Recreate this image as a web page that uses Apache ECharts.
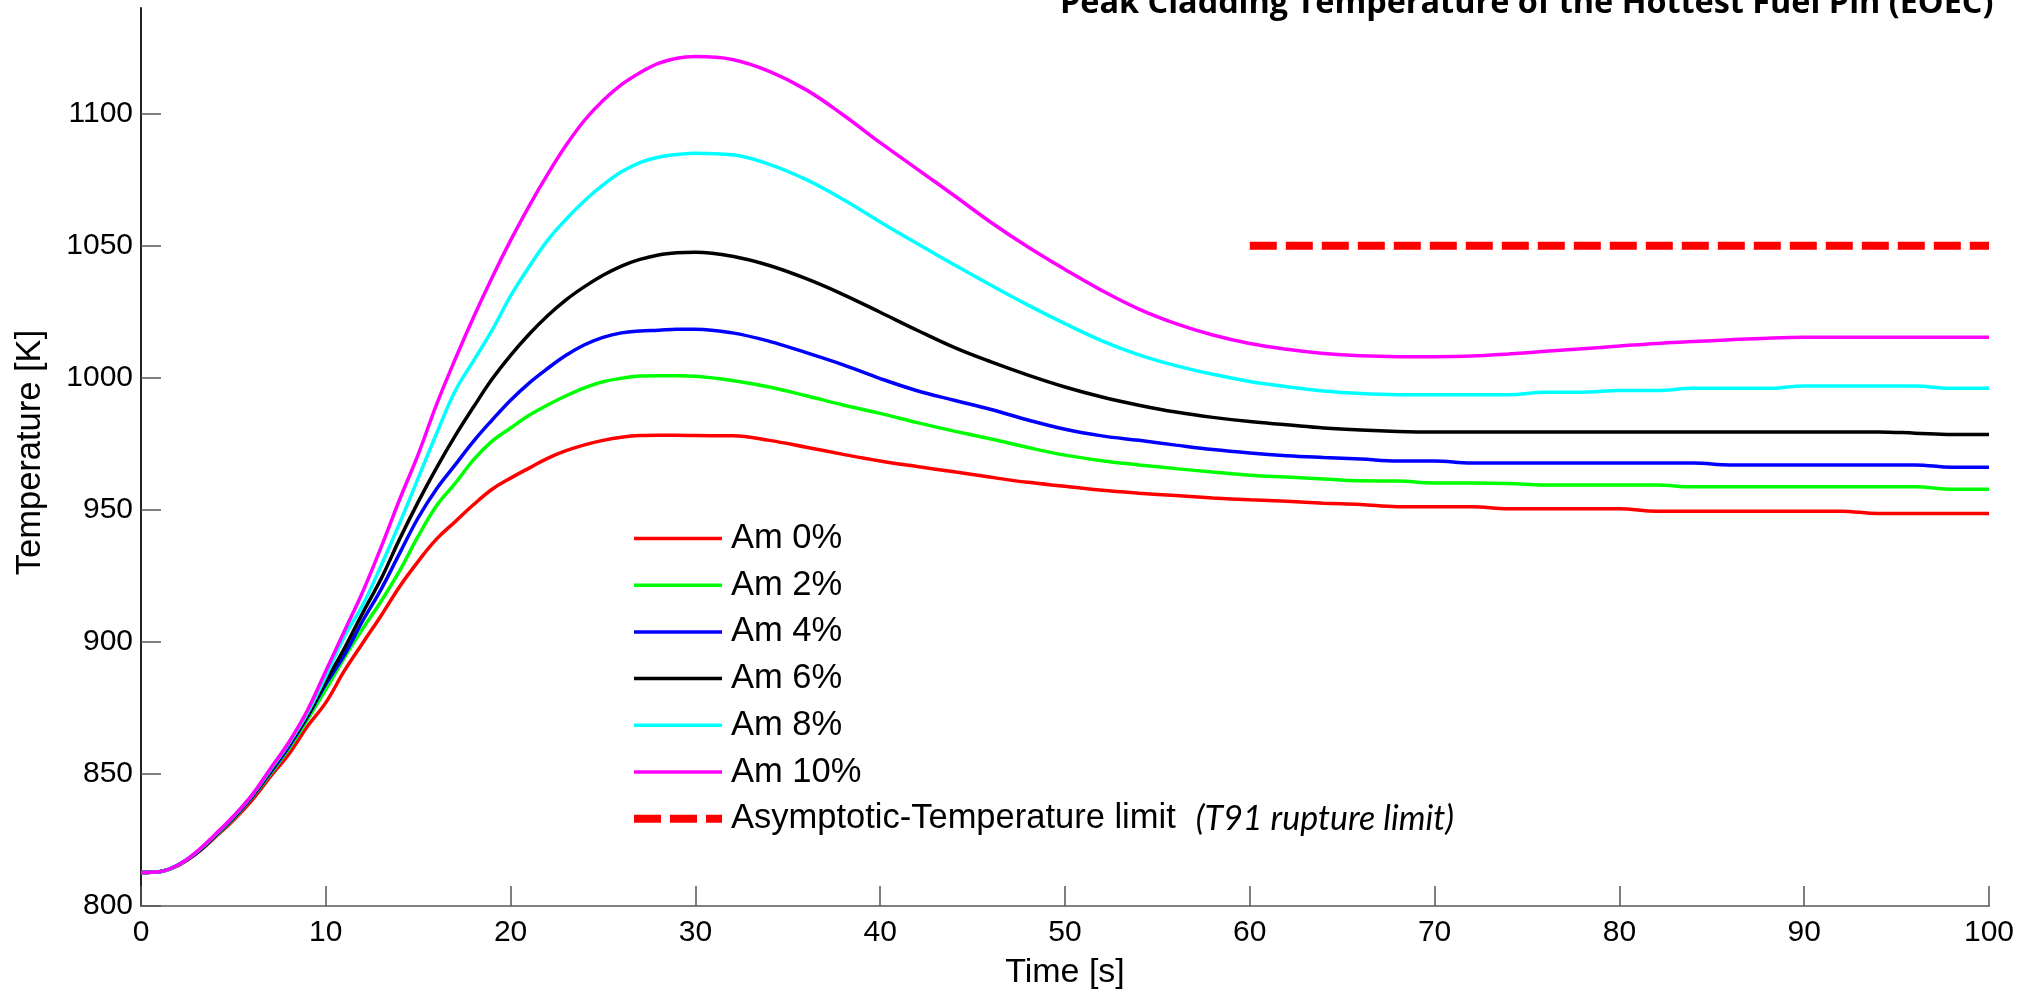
<!DOCTYPE html>
<html>
<head>
<meta charset="utf-8">
<script src="https://cdn.jsdelivr.net/npm/echarts@6/dist/echarts.min.js"></script>
<style>
  html, body { margin: 0; padding: 0; background: #fff; }
  #chart { width: 2040px; height: 995px; }
</style>
</head>
<body>
<div id="chart"></div>
<script>
  // time axis shared by all six curves [s]
  const times = [0, 1, 2, 3, 4, 5, 6, 7, 8, 9, 10, 11, 12, 13, 14, 15, 16, 17, 18, 19, 20,
    21, 22, 23, 24, 25, 26, 27, 28, 29, 30, 32, 34, 36, 38, 40, 42, 44, 46, 48, 50,
    52, 54, 56, 58, 60, 62, 64, 66, 68, 70, 72, 74, 76, 78, 80, 82, 84, 86, 88, 90,
    92, 94, 96, 98, 100]

  const am0 = [812.7, 813, 815.3, 819.8, 826, 832.5, 840, 849, 857.5, 868, 877, 889, 899.6, 910, 921, 930.5, 939, 945.5, 952, 957.8, 962,
    965.8, 969.5, 972.4, 974.6, 976.3, 977.5, 978.1, 978.2, 978.2, 978.1, 978, 976.3, 973.7, 971, 968.5, 966.4, 964.4, 962.3, 960.4, 958.9,
    957.4, 956.3, 955.4, 954.5, 953.8, 953.2, 952.5, 952, 951.2, 951.2, 951.2, 950.4, 950.4, 950.4, 950.4, 949.5, 949.5, 949.5, 949.5, 949.5,
    949.5, 948.6, 948.6, 948.6, 948.6]
  const am2 = [812.7, 813, 815.5, 820, 826.3, 833, 841, 850, 859.5, 870.5, 882, 894, 905, 915.5, 927, 940, 951.6, 960, 969, 976, 981,
    985.8, 989.7, 993.2, 996.2, 998.5, 999.8, 1000.7, 1000.8, 1000.8, 1000.6, 999, 996.5, 993.2, 989.7, 986.5, 983, 979.8, 976.8, 973.6, 970.7,
    968.6, 967, 965.6, 964.3, 963.1, 962.4, 961.7, 961, 960.9, 960.2, 960.2, 960, 959.4, 959.4, 959.4, 959.4, 958.7, 958.7, 958.7, 958.7,
    958.7, 958.7, 958.7, 957.8, 957.8]
  const am4 = [812.7, 813, 815.5, 820, 826.5, 833.3, 841.2, 850.5, 860.3, 871.5, 884, 895, 908, 920, 933.6, 947, 958, 967, 976, 984, 991.5,
    998, 1003.5, 1008.5, 1012.5, 1015.3, 1017, 1017.7, 1018, 1018.4, 1018.4, 1017, 1013.8, 1009.5, 1004.9, 999.7, 995.1, 991.5, 988, 984, 980.5,
    978, 976.3, 974.5, 972.8, 971.5, 970.5, 969.8, 969.2, 968.5, 968.5, 967.7, 967.7, 967.7, 967.7, 967.7, 967.7, 967.7, 967, 967, 967,
    967, 967, 967, 966.1, 966.1]
  const am6 = [812.7, 813, 815.5, 820, 826.5, 833.5, 841.5, 851, 861, 872, 885, 897.5, 911, 924, 939, 953, 966, 978, 989, 999.5, 1008.5,
    1016.5, 1023.5, 1029.5, 1034.5, 1038.8, 1042.3, 1044.8, 1046.5, 1047.3, 1047.5, 1046, 1042.5, 1037.5, 1031.5, 1024.8, 1018, 1011.5, 1006, 1001, 996.5,
    992.7, 989.6, 987, 985, 983.4, 982.2, 981, 980.2, 979.7, 979.5, 979.5, 979.5, 979.5, 979.5, 979.5, 979.5, 979.5, 979.5, 979.5, 979.5,
    979.5, 979.5, 979, 978.5, 978.5]
  const am8 = [812.7, 813, 815.5, 820.3, 826.8, 833.8, 841.8, 851.5, 861.5, 873, 887, 902, 914, 929, 945, 962, 979, 995, 1006.5, 1018, 1031,
    1042, 1052, 1060, 1067, 1073, 1078, 1081.5, 1083.5, 1084.5, 1085, 1084.4, 1080.8, 1075, 1067.5, 1059, 1050.8, 1042.8, 1035, 1027.5, 1020.5,
    1014, 1008.7, 1004.6, 1001.3, 998.6, 996.6, 995, 994, 993.6, 993.6, 993.6, 993.6, 994.5, 994.5, 995.2, 995.2, 996, 996, 996, 996.9,
    996.9, 996.9, 996.9, 996, 996]
  const am10 = [812.7, 813, 815.5, 820.5, 827, 834, 842, 852, 862, 874, 889, 904, 919, 936, 954, 971, 990, 1007, 1023, 1038, 1052,
    1065, 1077, 1088, 1097.5, 1105, 1111, 1115.5, 1119, 1121, 1121.6, 1120.5, 1116, 1109, 1099.5, 1089, 1079, 1069, 1058.8, 1049.5, 1041,
    1033, 1026, 1020.5, 1016.2, 1013, 1010.8, 1009.2, 1008.3, 1008, 1008, 1008.2, 1009, 1010, 1011, 1012, 1013, 1013.7, 1014.4, 1015, 1015.3,
    1015.3, 1015.3, 1015.3, 1015.3, 1015.3]

  // T91 rupture limit
  const limitX = [60, 100]
  const limitY = [1050, 1050]

  const xTicks = [0, 10, 20, 30, 40, 50, 60, 70, 80, 90, 100]
  const yTicks = [800, 850, 900, 950, 1000, 1050, 1100]

  const limitName = 'Asymptotic-Temperature limit'
  const curves = [
    { name: 'Am 0%', data: am0, color: '#ff0000' },
    { name: 'Am 2%', data: am2, color: '#00ff00' },
    { name: 'Am 4%', data: am4, color: '#0000ff' },
    { name: 'Am 6%', data: am6, color: '#000000' },
    { name: 'Am 8%', data: am8, color: '#00ffff' },
    { name: 'Am 10%', data: am10, color: '#ff00ff' }
  ]

  const zip = (xs, ys) => xs.map((x, i) => [x, ys[i]])

  const series = curves.map(c => ({
    name: c.name,
    type: 'line',
    data: zip(times, c.data),
    symbol: 'none',
    smooth: 0.4,
    itemStyle: { color: c.color },
    lineStyle: { color: c.color, width: 3.5 },
    animation: false
  }))
  series.push({
    name: limitName,
    type: 'line',
    data: zip(limitX, limitY),
    symbol: 'none',
    itemStyle: { color: '#ff0000' },
    lineStyle: { color: '#ff0000', width: 8, type: [27, 9] },
    animation: false
  })

  const axisFont = 'Liberation Sans, Arial, sans-serif'

  const chart = echarts.init(document.getElementById('chart'))
  chart.setOption({
    backgroundColor: '#ffffff',
    title: {
      text: 'Peak Cladding Temperature of the Hottest Fuel Pin (EOEC)',
      left: 1060,
      top: -13,
      padding: 0,
      textStyle: {
        fontFamily: 'Open Sans',
        fontWeight: 'bold',
        fontSize: 32.4,
        lineHeight: 33,
        color: '#000'
      }
    },
    grid: {
      left: 141,
      right: 51,
      top: 8,
      bottom: 88,
      containLabel: false
    },
    legend: {
      orient: 'vertical',
      left: 630,
      top: 521,
      padding: 0,
      itemWidth: 88,
      itemHeight: 20,
      itemGap: 11.7,
      data: curves.map(c => ({ name: c.name }))
        .concat([{ name: limitName, lineStyle: { width: 8 } }]),
      lineStyle: { width: 3.5 },
      itemStyle: { opacity: 0 },
      textStyle: {
        fontFamily: axisFont,
        fontSize: 34.5,
        lineHeight: 34,
        color: '#000',
        padding: [0, 0, 0, 4],
        rich: {
          i: {
            fontFamily: 'Lato',
            fontStyle: 'italic',
            fontSize: 34,
            lineHeight: 34,
            color: '#000',
            padding: [0, 0, 0, 20]
          }
        }
      },
      formatter: name => name === limitName ? name + '{i|(T91 rupture limit)}' : name
    },
    xAxis: {
      type: 'value',
      min: 0,
      max: 100,
      interval: 10,
      name: 'Time [s]',
      nameLocation: 'middle',
      nameGap: 50,
      nameTextStyle: { fontFamily: axisFont, fontSize: 34, color: '#000' },
      axisLine: { lineStyle: { color: '#808080', width: 2 } },
      axisTick: { inside: true, length: 20, customValues: xTicks, lineStyle: { color: '#555', width: 1.5 } },
      axisLabel: { customValues: xTicks, margin: 12, fontFamily: axisFont, fontSize: 30, color: '#000' },
      splitLine: { show: false }
    },
    yAxis: {
      type: 'value',
      min: 800,
      max: 1140,
      interval: 50,
      name: 'Temperature [K]',
      nameLocation: 'middle',
      nameGap: 93,
      nameTextStyle: { fontFamily: axisFont, fontSize: 34.5, color: '#000', padding: [0, 0, 0, 9] },
      axisLine: { lineStyle: { color: '#222', width: 2 } },
      axisTick: { inside: true, length: 20, customValues: yTicks, lineStyle: { color: '#555', width: 1.5 } },
      axisLabel: { customValues: yTicks, margin: 8, fontFamily: axisFont, fontSize: 30, color: '#000', formatter: v => String(v) },
      splitLine: { show: false }
    },
    series: series
  })
</script>
</body>
</html>
